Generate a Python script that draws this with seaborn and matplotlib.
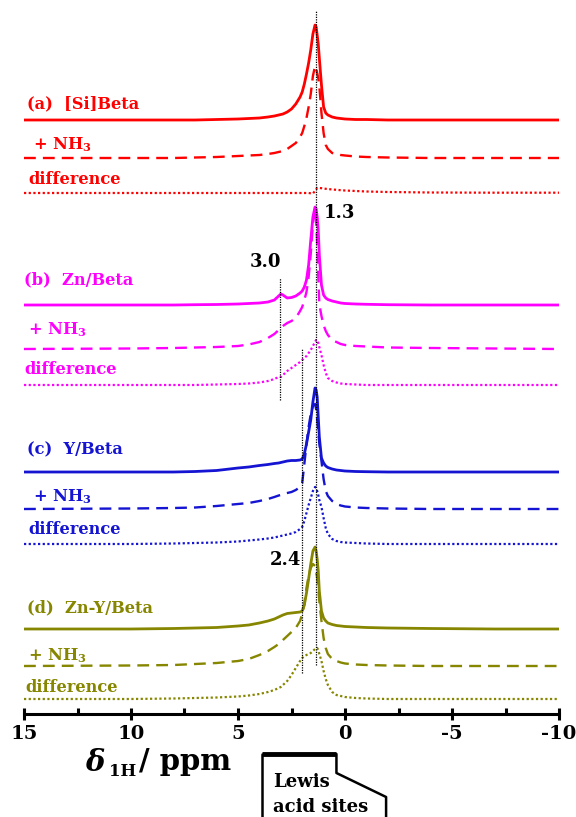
import numpy as np
import pandas as pd
import matplotlib
matplotlib.use("Agg")
import matplotlib.pyplot as plt
import seaborn as sns

# ---------------- data ----------------
ppm = [15, 10, 8, 7, 6, 5, 4.5, 4, 3.6, 3.3, 3.1, 3.0, 2.9, 2.7, 2.5, 2.3, 2.1, 2.0,
       1.9, 1.8, 1.7, 1.6, 1.5, 1.4, 1.35, 1.3, 1.25, 1.2, 1.1, 1.0, 0.9, 0.8, 0.6,
       0.4, 0.2, 0.0, -0.5, -1, -2, -4, -7, -10]

a_solid = [0, 0, 0, 0, 0.5, 1, 1.5, 2, 3, 4, 5, 5.5, 6, 8, 11, 16, 23, 28,
           36, 46, 57, 70, 86, 95, 93, 85, 76, 62, 35, 13, 7, 5, 3,
           2, 1.5, 1, 0.5, 0.5, 0, 0, 0, 0]
a_nh3 = [0, 0, 0, 0.5, 1, 2, 2.5, 3, 4, 5, 6, 6.5, 7, 9, 12, 15, 21, 25,
         32, 40, 51, 64, 82, 92, 90, 85, 80, 72, 45, 25, 13, 9, 5,
         4, 3, 2.5, 1.5, 1, 0.5, 0, 0, 0]
a_diff = [0, 0, 0, 0, 0, 0, 0, 0, 0, 0, 0, 0, 0, 0, 0, 0, 0, 0,
          0, 0, 0, -0.3, -0.5, 2, 3.5, 5, 5, 5, 4.8, 4.5, 4.2, 4, 3.5,
          3.2, 2.8, 2.5, 2, 1.5, 1, 0.5, 0.3, 0.3]

b_solid = [0, 0, 0, 0.3, 0.5, 1, 1.5, 2, 3, 5, 9, 11, 10, 7, 7.5, 9, 12, 14,
           18, 25, 40, 65, 88, 98, 96, 88, 75, 50, 20, 10, 7, 5.5, 4,
           3, 2, 1.5, 1, 0.7, 0.3, 0, 0, 0]
b_nh3 = [0, 0.5, 1, 1.5, 2, 3, 4.5, 7, 11, 15, 19, 21, 23, 26, 28, 31, 38, 42,
         49, 57, 72, 95, 125, 140, 130, 105, 75, 45, 33, 24, 18, 14, 9,
         7, 5, 4, 3, 2.5, 1.5, 1, 0.5, 0]
b_diff = [0, 0, 0, 0, 0.5, 1, 1.5, 2.5, 4, 6, 8, 8, 10, 14, 17, 20, 23, 25,
          27, 29, 32, 35, 39, 43, 45, 45, 42, 38, 30, 20, 12, 7, 4,
          2.5, 1.5, 1, 0.5, 0, 0, 0, 0, 0]

c_solid = [0, 0, 0, 0.5, 1.5, 4, 5, 6.5, 7.5, 8.5, 9, 9.5, 10, 11, 11.5, 11.5, 12, 13,
           18, 28, 40, 52, 70, 84, 82, 75, 55, 35, 14, 9, 6, 4.5, 3,
           2, 1.5, 1, 0.5, 0.3, 0, 0, 0, 0]
c_nh3 = [0, 0.5, 1, 1.5, 3, 5, 6, 8, 10, 12, 13.5, 14, 15, 16, 17, 19, 22, 26,
         45, 65, 82, 95, 103, 105, 100, 90, 78, 66, 48, 30, 18, 13, 8,
         5, 3.5, 2.5, 1.5, 1, 0.5, 0, 0, 0]
c_diff = [0, 0, 0.5, 1, 1.5, 2.5, 3.5, 4.5, 5.5, 6.5, 7.5, 8, 8.5, 9.5, 10.5, 12, 15, 17,
          23, 31, 39, 46, 53, 57, 56, 53, 49, 44, 37, 26, 16, 10, 5,
          3, 2, 1.5, 1, 0.5, 0, 0, 0, 0]

d_solid = [0, 0, 0.5, 1, 1.5, 3, 4, 6, 8, 10, 12, 13, 14, 15.5, 16, 16.5, 17, 18,
           24, 36, 50, 65, 78, 82, 78, 70, 58, 38, 18, 11, 8, 6, 4.5,
           3.5, 3, 2.5, 2, 1.5, 1, 0.5, 0, 0]
d_nh3 = [0, 0.5, 1, 2, 3, 5, 7, 11, 15, 19, 22, 24, 26, 30, 34, 38, 45, 52,
         62, 78, 90, 98, 102, 100, 95, 88, 78, 65, 45, 28, 18, 12, 7,
         5, 3.5, 2.5, 1.5, 1, 0.5, 0, 0, 0]
d_diff = [0, 0, 0.5, 1, 1.5, 2.5, 3.5, 5, 7, 9, 11, 12, 14, 18, 24, 31, 38, 41,
          43, 44, 45, 46, 48, 50, 51, 51, 49, 45, 38, 28, 20, 14, 7,
          4, 3, 2, 1, 0.5, 0, 0, 0, 0]

samples = ["(a)  [Si]Beta", "(b)  Zn/Beta", "(c)  Y/Beta", "(d)  Zn-Y/Beta"]
kinds = ["sample", "+ NH$_3$", "difference"]
traces = [[a_solid, a_nh3, a_diff], [b_solid, b_nh3, b_diff],
          [c_solid, c_nh3, c_diff], [d_solid, d_nh3, d_diff]]

peak_labels = ["1.3", "3.0", "2.4"]
peak_lines = [1.35, 3.05, 2.0]
lewis_range = [3.9, 0.4]

xticks = [15, 10, 5, 0, -5, -10]
xtick_labels = ["15", "10", "5", "0", "-5", "-10"]

# ---------------- styling / layout ----------------
colors = ["#ff0000", "#ff00ff", "#1414d2", "#868600"]
styles = ["-", (0, (5, 3)), (0, (1, 1.1))]
widths = [2.0, 1.7, 1.6]
offsets = [[594, 556, 521], [409, 365, 329], [242, 205, 170], [85, 48, 15]]

sns.set_theme(style="white")
plt.rcParams["font.family"] = ["DejaVu Serif", "DejaVu Sans"]
plt.rcParams["text.color"] = "black"
plt.rcParams["xtick.color"] = "black"
plt.rcParams["mathtext.fontset"] = "custom"
plt.rcParams["mathtext.rm"] = "DejaVu Serif:bold"
plt.rcParams["mathtext.bf"] = "DejaVu Serif:bold"
plt.rcParams["mathtext.it"] = "DejaVu Serif:italic:bold"

fig = plt.figure(figsize=(5.76, 8.17), dpi=100)
ax = fig.add_axes([24 / 576, 103 / 817, 535 / 576, 709 / 817])

rows = []
for si, s in enumerate(samples):
    for ki in range(3):
        for p, h in zip(ppm, traces[si][ki]):
            rows.append({"ppm": p, "y": offsets[si][ki] + h, "sample": si, "kind": ki})
df = pd.DataFrame(rows)

for si in range(4):
    for ki in range(3):
        sub = df[(df["sample"] == si) & (df["kind"] == ki)]
        sns.lineplot(data=sub, x="ppm", y="y", ax=ax, color=colors[si],
                     linestyle=styles[ki], linewidth=widths[ki],
                     sort=False, estimator=None, legend=False)

# vertical reference lines
vl_ranges = [(704, 49), (436, 314), (366, 41)]
for x, (ytop, ybot) in zip(peak_lines, vl_ranges):
    ax.plot([x, x], [ybot, ytop], color="black", lw=0.9, linestyle=(0, (1, 1)), zorder=5)

# sample labels
lab_pos = [[(14.86, 610), (14.6, 569), (14.8, 535)],
           [(15.0, 434), (14.8, 384), (15.0, 344)],
           [(14.86, 264), (14.6, 217), (14.8, 184)],
           [(14.86, 106), (14.8, 58), (14.95, 26)]]
for si in range(4):
    names = [samples[si], "+ NH$_\\mathregular{3}$", "difference"]
    for ki in range(3):
        x, y = lab_pos[si][ki]
        ax.text(x, y, names[ki], color=colors[si], fontsize=11.7, fontweight="bold",
                ha="left", va="center")

# peak annotations
ann_pos = [(0.25, 501), (3.7, 452), (2.8, 154)]
for t, (x, y) in zip(peak_labels, ann_pos):
    ax.text(x, y, t, color="black", fontsize=13, fontweight="bold", ha="center", va="center")

ax.set_xlim(15, -10)
ax.set_ylim(0, 709)
ax.set_yticks([])
ax.set_xticks(xticks)
ax.set_xticklabels(xtick_labels, fontsize=14, fontweight="bold", color="black")
ax.set_xticks([12.5, 7.5, 2.5, -2.5, -7.5], minor=True)
for sp in ["top", "left", "right"]:
    ax.spines[sp].set_visible(False)
ax.spines["bottom"].set_linewidth(2.2)
ax.spines["bottom"].set_color("black")
ax.tick_params(axis="x", which="major", direction="inout", length=8, width=2.2,
               color="black", pad=4, bottom=True)
ax.tick_params(axis="x", which="minor", direction="in", length=4, width=2.2,
               color="black", bottom=True)
ax.set_xlabel("")
ax.set_ylabel("")

# x-axis title
fig.text(85 / 576, 1 - 763 / 817, "$\\mathit{\\delta}$", fontsize=21, ha="left", va="center")
fig.text(109 / 576, 1 - 772 / 817, "1H", fontsize=12, fontweight="bold", ha="left", va="center")
fig.text(139 / 576, 1 - 762 / 817, "/ ppm", fontsize=21, fontweight="bold", ha="left", va="center")

# Lewis acid sites bracket
ax.plot(lewis_range, [-40, -40], color="black", lw=3.5, clip_on=False, solid_capstyle="butt")
ax.plot([lewis_range[0], lewis_range[0]], [-40, -105], color="black", lw=1.8, clip_on=False)
ax.plot([lewis_range[1], lewis_range[1], -1.92, -1.92], [-40, -59, -83, -105],
        color="black", lw=1.8, clip_on=False)
fig.text(273 / 576, 1 - 782 / 817, "Lewis", fontsize=13, fontweight="bold", ha="left", va="center")
fig.text(273 / 576, 1 - 807 / 817, "acid sites", fontsize=13, fontweight="bold", ha="left", va="center")

fig.savefig("out.png", dpi=100)
